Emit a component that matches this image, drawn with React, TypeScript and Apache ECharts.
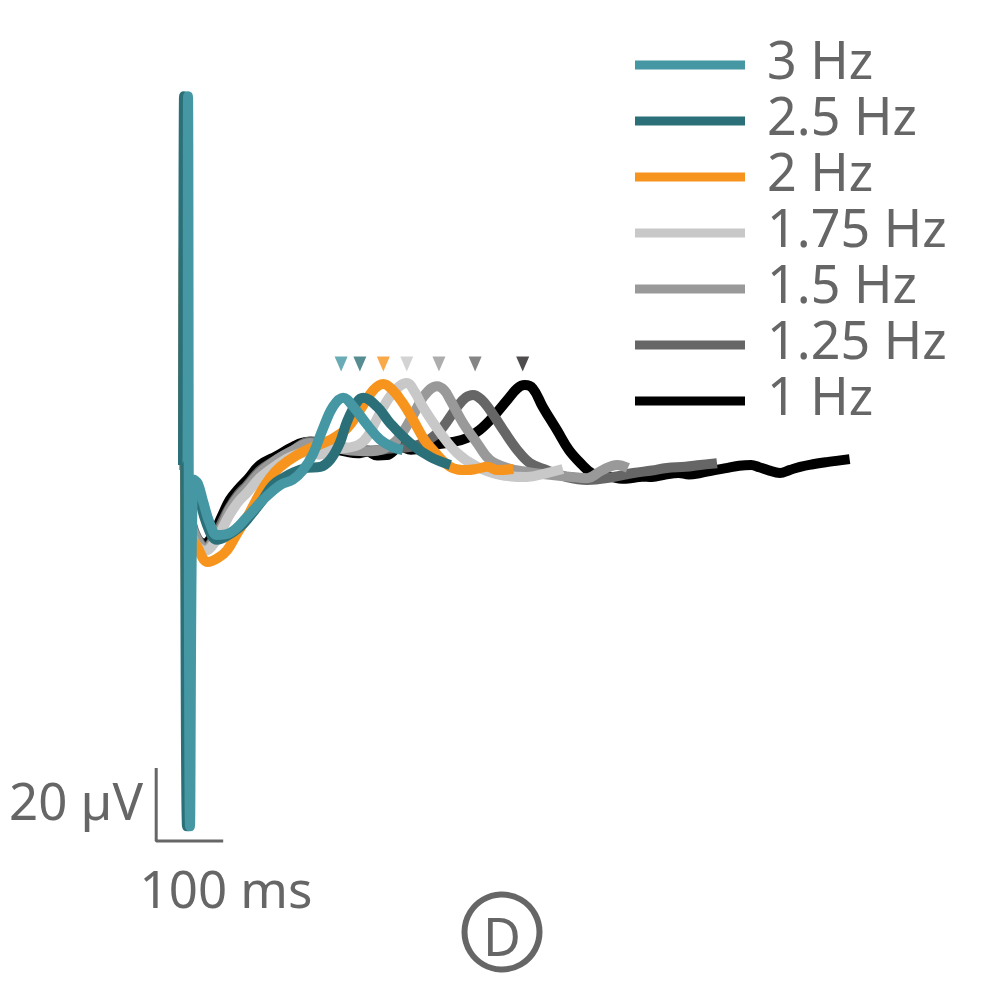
import React, { useEffect, useRef } from "react";
import * as echarts from "echarts";

// Frequencies (legend order) and colours
const names = ["3 Hz", "2.5 Hz", "2 Hz", "1.75 Hz", "1.5 Hz", "1.25 Hz", "1 Hz"];
const colors = ["#4497a3", "#2b7078", "#f7941d", "#c8c8c8", "#999999", "#666666", "#000000"];
const markerColors = ["#4497a3", "#2b7078", "#f7941d", "#c8c8c8", "#999999", "#666666", "#231f20"];

// Peak latencies (ms) marked with triangles, and the level of those markers (µV)
const peakTimes = [236, 264, 299, 334, 382, 436, 507];
const markerLevel = 27.7;

// Traces: [time ms, amplitude µV]
const trace3Hz = [
  [5, 0], [6.5, 0], [7.5, 101], [10.5, -99], [16, -4], [22, -5], [30, -10], [40, -16], [51, -19.2],
  [70, -18.6], [96, -14.2], [119, -9.6], [145, -5.5], [164, -4], [179, -1.4], [194, 3], [209, 10],
  [224, 16], [239, 18.4], [254, 16], [275, 11], [294, 7], [313, 4.9], [328, 4.1],
];
const trace25Hz = [
  [0, 0], [1, 0], [1.5, 101], [6, -99], [13, -4], [20, -6], [35, -16], [51, -20.5], [65, -19.5],
  [85, -17], [100, -14], [119, -9.5], [134, -5.5], [150, -3.5], [165, -2], [185, -0.8], [205, -0.5],
  [220, 1.5], [234, 6], [245, 12], [260, 17.3], [269, 18.4], [290, 15.9], [309, 11.5], [339, 6],
  [369, 2.2], [399, 0],
];
const trace2Hz = [
  [0, 0], [1, 0], [1.5, 59.7], [6, -50], [12, -20], [20, -22], [37, -26.6], [52, -25.5], [66, -23.3],
  [80, -19], [96, -14.2], [115, -7.7], [130, -3.5], [145, -0.5], [170, 2.7], [194, 4.9], [219, 6.8],
  [245, 10.1], [264, 15], [284, 20.5], [299, 22.2], [313, 20.5], [328, 17], [343, 12.5], [360, 7],
  [373, 4.1], [399, -0.5], [424, -1.4], [440, -1], [454, -0.5], [470, -1.4], [493, -1.1],
];
const trace175Hz = [
  [0, 0], [1, 0], [1.5, 14], [6, -14], [12, -19], [20, -22], [33, -23.5], [48, -21], [60, -17],
  [70, -13.5], [83, -10], [96, -7.5], [115, -3.5], [140, 0], [164, 2.5], [190, 3.6], [204, 2.8],
  [219, 4.1], [245, 4.7], [262, 5.5], [275, 7.7], [294, 14.2], [313, 19.7], [334, 22.5], [346, 20],
  [358, 15.9], [384, 8.8], [409, 3.3], [439, -0.5], [473, -2.7], [513, -3.3], [543, -2.2], [567, -1.1],
];
const trace15Hz = [
  [-6, 0], [1, 0], [1.5, 4], [6, -9], [12, -16], [20, -20], [33, -23], [48, -20], [60, -16],
  [70, -12], [83, -8.5], [96, -6], [115, -2], [140, 1.5], [164, 4], [190, 6], [219, 5], [250, 4],
  [280, 3.8], [300, 4.5], [320, 7], [343, 13.5], [360, 19], [379, 21.6], [390, 20.5], [399, 17.8],
  [418, 11.5], [439, 6], [458, 1.4], [484, -0.8], [513, -1.9], [548, -2.7], [582, -3.3], [603, -3.6],
  [625, -1.5], [648, 0], [664, -0.8],
];
const trace125Hz = [
  [-6, 0], [1, 0], [1.5, 2], [6, -8], [12, -15], [20, -19.5], [33, -22.5], [48, -19.5], [60, -15],
  [70, -11.5], [83, -8], [96, -5.5], [115, -1.5], [140, 1.5], [164, 4], [190, 6.5], [219, 5.5],
  [250, 4.5], [280, 4], [310, 4.5], [340, 5], [358, 6], [373, 7.7], [388, 10.4], [409, 15.9],
  [422, 18.5], [433, 19.2], [445, 18], [458, 15.1], [478, 9.6], [499, 4.1], [518, 0.5], [543, -1.4],
  [573, -3.3], [603, -4.1], [642, -3.3], [672, -2.2], [700, -1.5], [722, -0.8], [750, -0.5],
  [772, 0], [797, 0.5],
];
const trace1Hz = [
  [-6, 0], [1, 0], [1.5, 1], [6, -8], [12, -16], [20, -20], [32, -21.5], [45, -19], [58, -14],
  [70, -9.5], [83, -6.5], [96, -4], [115, 0], [140, 2.5], [164, 5], [185, 6.3], [200, 5.8],
  [219, 4.7], [245, 3.6], [260, 3.2], [275, 3.6], [290, 2.6], [304, 2.7], [325, 5], [340, 4.2],
  [355, 4.4], [373, 5.5], [403, 6.3], [424, 7.4], [443, 9.6], [463, 13.2], [484, 17.8], [499, 21],
  [510, 21.9], [522, 21], [537, 15.9], [558, 9.6], [576, 4.1], [596, 0], [610, -2.2], [625, -3],
  [640, -3.3], [655, -3.8], [670, -3.6], [685, -3.2], [700, -3.3], [720, -2.6], [740, -2.2],
  [755, -2.6], [772, -2.2], [790, -1.5], [813, -0.8], [830, -0.2], [848, 0], [860, -0.6],
  [873, -1.4], [891, -2.2], [905, -1.4], [921, -0.5], [940, 0.2], [961, 0.8], [978, 1.2], [995, 1.6],
];
const traces = [trace3Hz, trace25Hz, trace2Hz, trace175Hz, trace15Hz, trace125Hz, trace1Hz];

// Scale bar: 20 µV vertical, 100 ms horizontal
const scaleBar = [[-40, -83], [-40, -103], [60, -103]];
const scaleLabels = ["20 µV", "100 ms"];
const panelLabel = "D";

const FONT = "'Noto Sans', sans-serif";
const TEXT_COLOR = "#666666";

export default function App() {
  const ref = useRef<HTMLDivElement>(null);

  useEffect(() => {
    if (!ref.current) return;
    const chart = echarts.init(ref.current, null, { renderer: "svg" });

    const series: any[] = [];
    // draw lowest frequency first so higher frequencies are on top
    for (let i = traces.length - 1; i >= 0; i--) {
      series.push({
        name: names[i],
        type: "line",
        data: traces[i],
        showSymbol: false,
        symbol: "none",
        smooth: 0.4,
        lineStyle: { color: colors[i], width: 10, join: "round", cap: "butt" },
        z: 2 + (traces.length - i),
      });
    }
    series.push({
      type: "line",
      data: scaleBar,
      symbol: "none",
      lineStyle: { color: TEXT_COLOR, width: 3 },
      z: 1,
    });
    series.push({
      type: "scatter",
      symbol: "triangle",
      symbolRotate: 180,
      symbolSize: [13, 15],
      data: peakTimes.map((t, i) => ({ value: [t, markerLevel], itemStyle: { color: markerColors[i] } })),
      z: 20,
    });

    const graphic: any[] = [];
    names.forEach((n, i) => {
      const y = 65 + i * 56;
      graphic.push({
        type: "line",
        shape: { x1: 635, y1: y, x2: 745, y2: y },
        style: { stroke: colors[i], lineWidth: 9 },
      });
      graphic.push({
        type: "text",
        x: 767,
        y: y - 7,
        style: {
          text: n, fontSize: 52, lineHeight: 48, fontFamily: FONT, fill: TEXT_COLOR,
          align: "left", verticalAlign: "middle",
        },
      });
    });
    graphic.push({
      type: "text",
      x: 143,
      y: 800,
      style: { text: scaleLabels[0], fontSize: 51, fontFamily: FONT, fill: TEXT_COLOR, align: "right", verticalAlign: "middle" },
    });
    graphic.push({
      type: "text",
      x: 226,
      y: 888,
      style: { text: scaleLabels[1], fontSize: 51, fontFamily: FONT, fill: TEXT_COLOR, align: "center", verticalAlign: "middle" },
    });
    graphic.push({
      type: "circle",
      shape: { cx: 502, cy: 932, r: 37.5 },
      style: { fill: "none", stroke: TEXT_COLOR, lineWidth: 6 },
    });
    graphic.push({
      type: "text",
      x: 502,
      y: 935,
      style: { text: panelLabel, fontSize: 52, fontFamily: FONT, fill: TEXT_COLOR, align: "center", verticalAlign: "middle" },
    });

    chart.setOption({
      animation: false,
      backgroundColor: "#ffffff",
      grid: { left: 116, top: 27, width: 737, height: 949 },
      xAxis: { type: "value", min: -100, max: 1000, show: false },
      yAxis: { type: "value", min: -140, max: 120, show: false },
      series,
      graphic,
    });

    return () => chart.dispose();
  }, []);

  return <div ref={ref} style={{ position: "fixed", left: 0, top: 0, width: 1000, height: 1000 }} />;
}
